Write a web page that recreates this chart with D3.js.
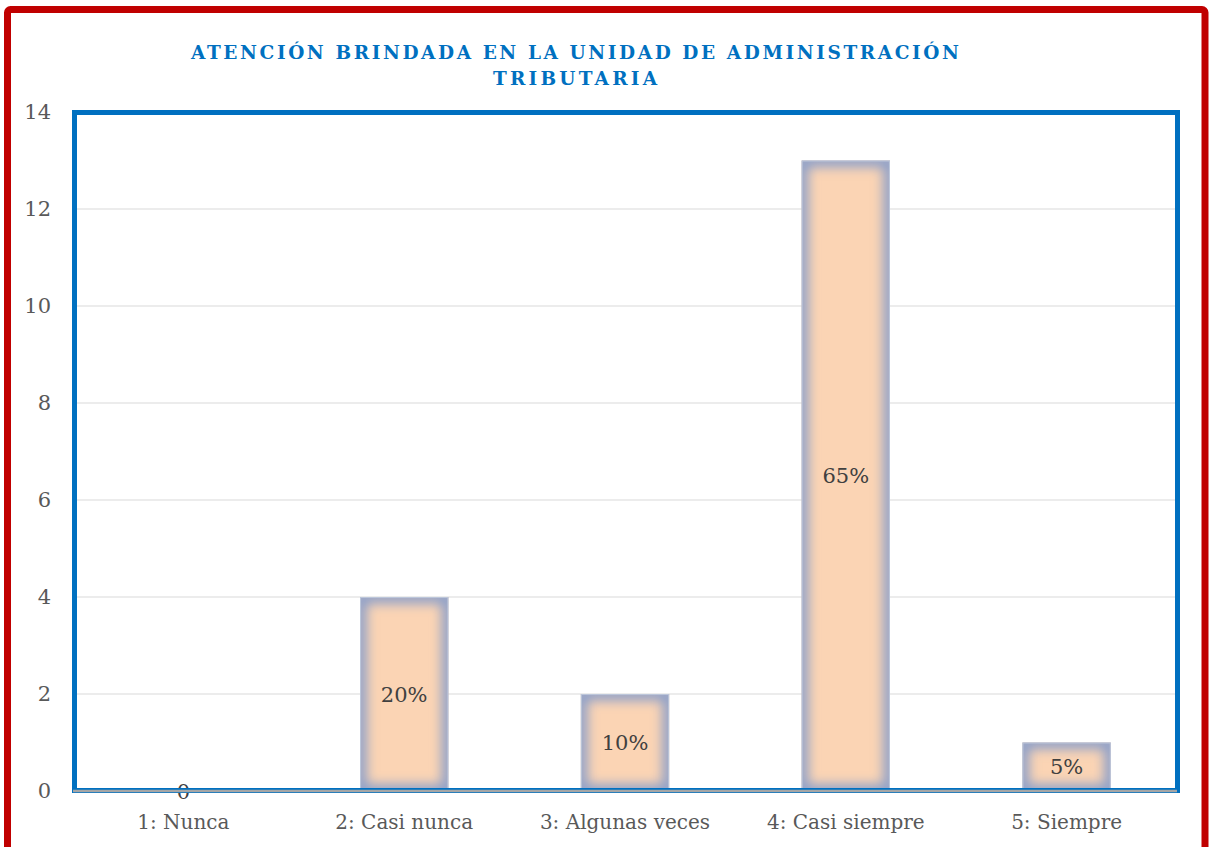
<!DOCTYPE html>
<html>
<head>
<meta charset="utf-8">
<script src="https://cdn.jsdelivr.net/npm/d3@7"></script>
<style>
  body { margin: 0; background: #fff; }
  svg { display: block; }
</style>
</head>
<body>
<svg class="chart"></svg>
<script>
const categories = ['1: Nunca', '2: Casi nunca', '3: Algunas veces', '4: Casi siempre', '5: Siempre'];
const counts = [0, 4, 2, 13, 1];
const barLabels = ['0', '20%', '10%', '65%', '5%'];
const yTicks = [0, 2, 4, 6, 8, 10, 12, 14];
const titleLines = ['ATENCIÓN BRINDADA EN LA UNIDAD DE ADMINISTRACIÓN', 'TRIBUTARIA'];

const startApp = () => {
  const viewBox = { width: 1209, height: 847 };
  const plot = { left: 73, right: 1177, top: 112, bottom: 791 };
  const serif = "'DejaVu Serif', serif";

  const svg = d3.select('.chart')
    .attr('width', viewBox.width)
    .attr('height', viewBox.height);

  const xScale = d3.scaleBand()
    .domain(categories)
    .range([plot.left, plot.right])
    .paddingInner(0.6)
    .paddingOuter(0.3);
  const yScale = d3.scaleLinear().domain([0, 14]).range([plot.bottom, plot.top]);

  const defs = svg.append('defs');
  defs.append('filter')
    .attr('id', 'soft')
    .attr('x', '-20%').attr('y', '-20%').attr('width', '140%').attr('height', '140%')
    .append('feGaussianBlur')
    .attr('stdDeviation', 6);

  // outer red frame
  svg.append('rect')
    .attr('x', 7.5).attr('y', 9.5)
    .attr('width', 1197.5).attr('height', 900)
    .attr('rx', 3)
    .attr('fill', '#fff')
    .attr('stroke', '#C00000')
    .attr('stroke-width', 7);

  // title
  const lineWidths = [768, 164];
  svg.append('g').selectAll('text')
    .data(titleLines)
    .enter()
    .append('text')
    .attr('x', 575)
    .attr('y', (d, i) => 59 + i * 26)
    .attr('text-anchor', 'middle')
    .attr('textLength', (d, i) => lineWidths[i])
    .attr('lengthAdjust', 'spacing')
    .attr('font-family', serif)
    .attr('font-weight', 'bold')
    .attr('font-size', 18.5)
    .attr('fill', '#0070C0')
    .text(d => d);

  // gridlines
  svg.append('g').selectAll('line')
    .data(yTicks.filter(t => t > 0))
    .enter()
    .append('line')
    .attr('x1', plot.left).attr('x2', plot.right)
    .attr('y1', t => yScale(t)).attr('y2', t => yScale(t))
    .attr('stroke', '#D9D9D9')
    .attr('stroke-width', 1);

  // bars
  const bars = svg.append('g').selectAll('g')
    .data(counts.map((c, i) => ({ cat: categories[i], count: c, label: barLabels[i], i })))
    .enter()
    .append('g');

  bars.filter(d => d.count > 0).each(function (d) {
    const g = d3.select(this);
    const x = xScale(d.cat);
    const y = yScale(d.count);
    const w = xScale.bandwidth();
    const h = yScale(0) - y;
    defs.append('clipPath')
      .attr('id', `clip${d.i}`)
      .append('rect')
      .attr('x', x).attr('y', y).attr('width', w).attr('height', h);
    g.append('rect')
      .attr('x', x).attr('y', y).attr('width', w).attr('height', h)
      .attr('fill', '#FBD4B4');
    g.append('g')
      .attr('clip-path', `url(#clip${d.i})`)
      .append('rect')
      .attr('x', x).attr('y', y).attr('width', w).attr('height', h)
      .attr('fill', 'none')
      .attr('stroke', '#8A9FCA')
      .attr('stroke-width', 13)
      .attr('filter', 'url(#soft)');
    g.append('rect')
      .attr('x', x + 0.5).attr('y', y + 0.5).attr('width', w - 1).attr('height', h - 1)
      .attr('fill', 'none')
      .attr('stroke', '#BCC6DA')
      .attr('stroke-width', 1);
  });

  // blue plot frame
  svg.append('rect')
    .attr('x', 74.5).attr('y', 112.5)
    .attr('width', 1103).attr('height', 678)
    .attr('fill', 'none')
    .attr('stroke', '#0070C0')
    .attr('stroke-width', 5);

  // category axis line
  svg.append('line')
    .attr('x1', plot.left).attr('x2', plot.right)
    .attr('y1', plot.bottom).attr('y2', plot.bottom)
    .attr('stroke', '#A6A6A6')
    .attr('stroke-width', 2.5);

  // bar labels
  bars.append('text')
    .attr('x', d => xScale(d.cat) + xScale.bandwidth() / 2)
    .attr('y', d => (yScale(d.count) + yScale(0)) / 2)
    .attr('dy', '0.36em')
    .attr('text-anchor', 'middle')
    .attr('font-family', serif)
    .attr('font-size', 21)
    .attr('fill', '#404040')
    .text(d => d.label);

  const xAxis = d3.axisBottom(xScale).tickSize(0).tickPadding(24);
  const yAxis = d3.axisLeft(yScale).tickValues(yTicks).tickSize(0).tickPadding(22);

  const xg = svg.append('g')
    .attr('transform', `translate(0, ${plot.bottom})`)
    .call(xAxis);
  const yg = svg.append('g')
    .attr('transform', `translate(${plot.left}, 0)`)
    .call(yAxis);

  [xg, yg].forEach((g) => {
    g.select('.domain').remove();
    g.selectAll('text')
      .attr('font-family', serif)
      .attr('fill', '#595959');
  });
  xg.selectAll('text').attr('font-size', 20);
  yg.selectAll('text').attr('font-size', 21);
};

window.onload = startApp;
</script>
</body>
</html>
